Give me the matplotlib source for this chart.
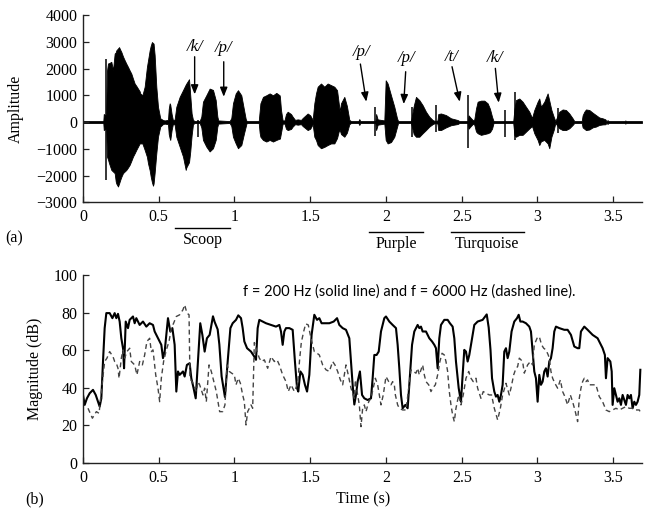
import matplotlib
matplotlib.use("Agg")
import matplotlib.pyplot as plt
import numpy as np

# ---------------- data ----------------
# speech waveform envelope (time s, upper, lower amplitude)
wave_t = [0.0, 0.134, 0.137, 0.148, 0.152, 0.158, 0.165, 0.172, 0.187, 0.198, 0.209, 0.216, 0.220, 0.231,
          0.238, 0.246, 0.253, 0.264, 0.275, 0.286, 0.297, 0.308, 0.319, 0.330, 0.341, 0.352, 0.363,
          0.374, 0.378, 0.392, 0.407, 0.422, 0.429, 0.440, 0.447, 0.455, 0.462, 0.466, 0.473, 0.484,
          0.495, 0.510, 0.528, 0.539, 0.561, 0.566, 0.572, 0.576, 0.585, 0.594, 0.605, 0.616, 0.638,
          0.660, 0.678, 0.682, 0.700, 0.708, 0.717, 0.726, 0.737, 0.770, 0.781, 0.792, 0.814, 0.836,
          0.858, 0.876, 0.887, 0.893, 0.968, 0.979, 0.990, 1.008, 1.023, 1.045, 1.063, 1.074, 1.080,
          1.160, 1.166, 1.171, 1.188, 1.210, 1.232, 1.254, 1.276, 1.298, 1.300, 1.307, 1.318, 1.330,
          1.340, 1.351, 1.373, 1.384, 1.400, 1.417, 1.439, 1.450, 1.483, 1.500, 1.516, 1.527, 1.538,
          1.549, 1.571, 1.593, 1.615, 1.637, 1.659, 1.677, 1.688, 1.695, 1.703, 1.725, 1.742, 1.758,
          1.769, 1.818, 1.824, 1.830, 1.930, 1.935, 1.945, 1.989, 1.998, 2.011, 2.033, 2.055, 2.073,
          2.080, 2.165, 2.183, 2.198, 2.220, 2.242, 2.264, 2.286, 2.308, 2.325, 2.340, 2.345, 2.363,
          2.396, 2.429, 2.473, 2.485, 2.540, 2.545, 2.560, 2.575, 2.583, 2.594, 2.605, 2.627, 2.649,
          2.671, 2.686, 2.700, 2.710, 2.840, 2.848, 2.858, 2.880, 2.902, 2.924, 2.946, 2.964, 2.979,
          3.001, 3.012, 3.023, 3.045, 3.067, 3.078, 3.092, 3.107, 3.118, 3.144, 3.166, 3.188, 3.210,
          3.232, 3.243, 3.292, 3.298, 3.309, 3.320, 3.342, 3.364, 3.386, 3.408, 3.430, 3.448, 3.455,
          3.463, 3.470, 3.575, 3.580, 3.585, 3.690]
wave_hi = [35, 35, 300, 250, 35, 1900, 2190, 2200, 2250, 1940, 2560, 2600, 2680, 2750,
           2800, 2700, 2620, 2450, 2310, 2180, 2060, 1930, 1810, 1620, 1440, 1350, 1250,
           1150, 1070, 1000, 1320, 2060, 2300, 2680, 2850, 2990, 2950, 2930, 2500, 1320,
           570, 140, 75, 60, 80, 500, 700, 650, 300, 60, 100, 570, 940,
           1190, 1400, 1440, 1600, 1000, 320, 80, 35, 35, 200, 760, 1000, 1250,
           1200, 820, 200, 60, 35, 150, 700, 1070, 1190, 1000, 450, 120, 35,
           35, 400, 700, 940, 1000, 1070, 1000, 1090, 1000, 940, 450, 60, 60,
           300, 385, 300, 200, 80, 100, 80, 150, 320, 250, 80, 700, 1070,
           1320, 1440, 1320, 1440, 1380, 1320, 1190, 700, 400, 700, 940, 600, 80,
           35, 35, 110, 35, 35, 300, 100, 60, 1560, 1440, 1000, 570, 140,
           35, 35, 600, 940, 820, 630, 385, 200, 75, 35, 60, 300, 320,
           260, 140, 75, 35, 35, 250, 150, 60, 100, 500, 760, 800, 800,
           700, 500, 200, 35, 35, 500, 820, 880, 760, 570, 385, 150, 450,
           760, 880, 570, 760, 1070, 800, 450, 200, 35, 385, 470, 450, 320,
           140, 35, 35, 250, 385, 470, 450, 350, 260, 170, 140, 100, 35,
           70, 35, 35, 60, 35, 35]
wave_lo = [-35, -35, -300, -250, -35, -1290, -1400, -1540, -1790, -1850, -1910, -2220, -2300, -2410,
           -2300, -2160, -2050, -1910, -1850, -1790, -1700, -1600, -1450, -1290, -1170, -1040, -920,
           -800, -800, -800, -1040, -1300, -1540, -1800, -2040, -2250, -2380, -2300, -1900, -1170,
           -550, -170, -75, -60, -80, -450, -600, -670, -300, -60, -100, -550, -920,
           -1290, -1790, -1700, -1500, -1100, -500, -80, -35, -35, -200, -670, -920, -1100,
           -980, -670, -170, -60, -35, -150, -550, -800, -980, -860, -420, -170, -35,
           -35, -400, -550, -670, -730, -670, -730, -670, -620, -620, -400, -60, -60,
           -250, -300, -260, -170, -80, -100, -80, -150, -300, -250, -80, -550, -670,
           -860, -980, -930, -860, -800, -800, -600, -350, -300, -450, -550, -400, -80,
           -35, -35, -110, -35, -35, -300, -100, -60, -670, -800, -750, -550, -180,
           -35, -35, -450, -550, -550, -420, -300, -170, -80, -35, -60, -300, -300,
           -200, -120, -75, -35, -35, -250, -150, -60, -100, -350, -420, -480, -450,
           -420, -380, -250, -35, -35, -500, -550, -480, -480, -360, -240, -150, -420,
           -670, -860, -720, -670, -800, -980, -550, -300, -35, -235, -300, -300, -235,
           -110, -35, -35, -200, -250, -300, -280, -200, -170, -110, -90, -85, -35,
           -70, -35, -35, -60, -35, -35]
# isolated bursts (time, upper, lower)
spike_t = [0.154, 0.761, 1.930, 2.172, 2.332, 2.539, 2.788, 2.851, 3.133]
spike_hi = [2370, 60, 550, 550, 630, 1000, 450, 1130, 510]
spike_lo = [-2160, -550, -520, -550, -360, -980, -550, -670, -420]

# phoneme markers
phon_labels = ['/k/', '/p/', '/p/', '/p/', '/t/', '/k/']
phon_text_t = [0.737, 0.929, 1.837, 2.135, 2.431, 2.717]
phon_text_a = [2814, 2760, 2627, 2380, 2440, 2380]
phon_tail_t = [0.737, 0.929, 1.831, 2.130, 2.436, 2.722]
phon_tail_a = [2440, 2253, 2167, 1880, 2067, 2006]
phon_tip_t = [0.737, 0.929, 1.870, 2.117, 2.487, 2.744]
phon_tip_a = [1035, 945, 760, 673, 760, 722]

# words
word_labels = ['Scoop', 'Purple', 'Turquoise']
word_start = [0.610, 1.888, 2.427]
word_end = [0.968, 2.244, 2.909]

# magnitude at 200 Hz (solid)
f200_t = [0.000, 0.011, 0.026, 0.044, 0.066, 0.084, 0.099, 0.110, 0.121, 0.132, 0.143, 0.154, 0.176, 0.194,
          0.209, 0.220, 0.231, 0.242, 0.253, 0.264, 0.271, 0.282, 0.297, 0.308, 0.330, 0.341, 0.352,
          0.374, 0.396, 0.418, 0.440, 0.462, 0.473, 0.495, 0.517, 0.528, 0.539, 0.550, 0.561, 0.576,
          0.590, 0.605, 0.616, 0.627, 0.638, 0.660, 0.671, 0.686, 0.704, 0.715, 0.730, 0.744, 0.759,
          0.774, 0.788, 0.803, 0.818, 0.836, 0.858, 0.869, 0.889, 0.900, 0.915, 0.937, 0.955, 0.973,
          0.988, 1.010, 1.025, 1.043, 1.054, 1.065, 1.083, 1.109, 1.131, 1.142, 1.153, 1.164, 1.186,
          1.208, 1.241, 1.274, 1.296, 1.307, 1.318, 1.329, 1.340, 1.362, 1.384, 1.399, 1.413, 1.421,
          1.435, 1.450, 1.465, 1.479, 1.494, 1.509, 1.527, 1.545, 1.560, 1.575, 1.593, 1.626, 1.655,
          1.677, 1.692, 1.714, 1.736, 1.758, 1.769, 1.780, 1.791, 1.802, 1.813, 1.828, 1.842, 1.857,
          1.879, 1.901, 1.912, 1.923, 1.938, 1.952, 1.967, 1.989, 2.000, 2.022, 2.044, 2.066, 2.077,
          2.088, 2.099, 2.110, 2.128, 2.143, 2.154, 2.172, 2.187, 2.209, 2.220, 2.231, 2.242, 2.264,
          2.286, 2.304, 2.319, 2.330, 2.341, 2.352, 2.363, 2.385, 2.407, 2.422, 2.440, 2.451, 2.462,
          2.480, 2.495, 2.506, 2.517, 2.528, 2.539, 2.550, 2.561, 2.583, 2.605, 2.638, 2.665, 2.678,
          2.690, 2.700, 2.715, 2.726, 2.737, 2.748, 2.759, 2.770, 2.781, 2.792, 2.803, 2.814, 2.829,
          2.847, 2.865, 2.876, 2.887, 2.902, 2.924, 2.946, 2.957, 2.968, 2.979, 2.990, 3.001, 3.012,
          3.023, 3.034, 3.045, 3.056, 3.067, 3.078, 3.089, 3.100, 3.111, 3.122, 3.144, 3.177, 3.199,
          3.221, 3.243, 3.265, 3.276, 3.287, 3.309, 3.331, 3.364, 3.397, 3.430, 3.445, 3.452, 3.463,
          3.481, 3.490, 3.496, 3.507, 3.518, 3.529, 3.540, 3.551, 3.562, 3.573, 3.584, 3.595, 3.606,
          3.617, 3.628, 3.639, 3.650, 3.661, 3.672, 3.679]
f200_db = [36.1, 30.8, 34.3, 37.0, 38.8, 36.1, 32.5, 29.9, 34.3, 53.9, 71.7, 79.7, 79.7, 77.0,
           79.7, 77.0, 79.3, 75.2, 66.3, 61.0, 50.3, 75.2, 71.7, 76.1, 77.9, 74.3, 77.0,
           73.4, 75.2, 72.5, 74.3, 73.4, 69.9, 66.3, 62.8, 55.7, 59.2, 68.1, 77.0, 69.9,
           71.7, 62.8, 37.9, 48.6, 46.8, 48.6, 45.9, 52.1, 53.0, 45.0, 39.7, 34.3, 53.9,
           74.3, 68.1, 59.2, 66.3, 68.1, 78.0, 75.0, 71.0, 63.0, 46.0, 35.0, 53.9, 71.7,
           74.3, 76.1, 78.5, 77.0, 71.7, 64.6, 61.0, 59.2, 56.5, 54.8, 71.7, 76.1, 75.2,
           74.3, 73.4, 72.5, 73.4, 69.9, 62.8, 69.9, 71.7, 71.7, 70.8, 53.9, 39.7, 37.9,
           48.6, 46.8, 41.5, 37.9, 46.8, 68.1, 78.8, 76.1, 77.0, 74.3, 74.3, 74.3, 75.2,
           77.0, 73.4, 71.7, 70.8, 66.3, 53.9, 41.5, 31.0, 36.1, 43.2, 48.6, 36.1, 34.3,
           33.4, 34.3, 45.0, 57.4, 57.4, 59.2, 69.9, 77.0, 77.9, 75.2, 73.4, 71.7, 62.8,
           50.3, 36.1, 29.0, 30.8, 29.0, 41.5, 62.8, 69.9, 73.4, 71.7, 72.5, 69.9, 69.9,
           66.3, 64.6, 62.8, 61.0, 50.3, 66.3, 73.4, 76.1, 76.1, 74.3, 72.5, 66.3, 53.9,
           39.7, 32.5, 46.8, 60.1, 59.2, 53.9, 57.4, 62.8, 73.4, 75.2, 76.1, 79.0, 72.0,
           60.0, 45.0, 37.9, 35.2, 36.1, 32.5, 36.1, 41.5, 59.2, 61.0, 55.7, 59.2, 69.9,
           75.2, 77.0, 78.8, 75.2, 75.2, 74.3, 72.5, 69.9, 59.2, 48.6, 45.0, 32.5, 46.8,
           41.5, 43.2, 48.6, 50.3, 45.9, 53.9, 55.7, 61.0, 69.9, 72.5, 71.7, 70.8, 70.8,
           68.1, 61.9, 61.0, 61.0, 69.9, 72.5, 70.8, 68.1, 66.3, 61.0, 57.4, 45.0, 55.7,
           53.9, 48.6, 30.8, 39.7, 36.1, 32.5, 34.3, 30.8, 36.1, 33.4, 30.8, 36.1, 34.3,
           36.1, 29.0, 32.5, 30.8, 32.5, 36.1, 49.5]

# magnitude at 6000 Hz (dashed)
f6k_t = [0.033, 0.062, 0.088, 0.106, 0.128, 0.143, 0.158, 0.176, 0.198, 0.209, 0.220, 0.231, 0.238, 0.253,
         0.264, 0.275, 0.290, 0.308, 0.319, 0.341, 0.356, 0.374, 0.392, 0.407, 0.422, 0.440, 0.451,
         0.462, 0.480, 0.495, 0.506, 0.517, 0.532, 0.550, 0.568, 0.583, 0.598, 0.616, 0.638, 0.660,
         0.671, 0.686, 0.700, 0.706, 0.726, 0.748, 0.759, 0.770, 0.792, 0.803, 0.814, 0.832, 0.847,
         0.858, 0.880, 0.902, 0.922, 0.937, 0.951, 0.966, 0.981, 0.999, 1.010, 1.025, 1.039, 1.054,
         1.065, 1.076, 1.087, 1.098, 1.109, 1.120, 1.131, 1.149, 1.164, 1.179, 1.197, 1.219, 1.241,
         1.263, 1.281, 1.296, 1.318, 1.340, 1.355, 1.373, 1.395, 1.417, 1.430, 1.441, 1.457, 1.470,
         1.487, 1.505, 1.527, 1.545, 1.560, 1.582, 1.604, 1.626, 1.648, 1.663, 1.681, 1.699, 1.714,
         1.736, 1.751, 1.769, 1.791, 1.798, 1.813, 1.824, 1.835, 1.846, 1.857, 1.868, 1.886, 1.901,
         1.916, 1.930, 1.945, 1.956, 1.967, 1.982, 2.000, 2.018, 2.033, 2.044, 2.055, 2.062, 2.077,
         2.088, 2.110, 2.132, 2.150, 2.165, 2.180, 2.198, 2.209, 2.220, 2.242, 2.253, 2.264, 2.282,
         2.297, 2.308, 2.326, 2.341, 2.356, 2.370, 2.385, 2.396, 2.407, 2.418, 2.429, 2.440, 2.451,
         2.462, 2.480, 2.495, 2.510, 2.528, 2.546, 2.561, 2.576, 2.594, 2.605, 2.627, 2.642, 2.660,
         2.682, 2.697, 2.715, 2.737, 2.755, 2.770, 2.792, 2.814, 2.825, 2.843, 2.858, 2.869, 2.880,
         2.902, 2.913, 2.935, 2.953, 2.968, 2.979, 2.997, 3.012, 3.027, 3.041, 3.056, 3.071, 3.078,
         3.089, 3.100, 3.115, 3.133, 3.151, 3.166, 3.181, 3.199, 3.217, 3.232, 3.247, 3.265, 3.276,
         3.287, 3.298, 3.309, 3.320, 3.331, 3.342, 3.364, 3.386, 3.408, 3.430, 3.452, 3.474, 3.496,
         3.518, 3.540, 3.562, 3.584, 3.606, 3.628, 3.650, 3.672, 3.683]
f6k_db = [29.0, 23.7, 27.2, 26.3, 43.2, 53.9, 55.7, 59.2, 56.5, 53.9, 53.0, 50.3, 45.0, 55.7,
          60.1, 55.7, 59.2, 61.0, 53.9, 52.1, 46.8, 53.9, 52.1, 57.4, 64.6, 66.3, 59.2,
          60.1, 46.8, 39.7, 32.5, 45.0, 53.9, 60.1, 64.6, 71.7, 74.3, 77.9, 78.8, 81.5,
          84.1, 79.7, 78.8, 45.0, 42.3, 37.9, 43.2, 41.5, 36.1, 39.7, 32.5, 52.1, 48.6,
          45.0, 37.9, 27.2, 27.2, 30.8, 52.1, 48.6, 47.7, 46.8, 41.5, 45.0, 42.3, 36.1,
          32.5, 20.1, 27.2, 29.0, 30.8, 29.0, 64.0, 59.2, 55.7, 53.9, 54.8, 50.3, 56.5,
          53.9, 54.8, 52.1, 46.8, 43.2, 37.9, 41.5, 38.0, 42.0, 55.0, 64.0, 70.0, 74.0,
          73.4, 66.3, 59.2, 58.3, 57.4, 52.1, 49.5, 48.6, 53.9, 52.1, 48.6, 44.1, 41.5,
          52.1, 46.8, 39.7, 34.3, 44.1, 36.1, 30.8, 19.2, 29.0, 30.8, 27.2, 32.5, 34.3,
          39.7, 45.0, 41.5, 36.1, 30.8, 36.1, 45.9, 43.2, 41.5, 43.2, 41.5, 36.1, 30.8,
          29.0, 28.1, 28.1, 39.7, 49.5, 48.6, 47.7, 50.3, 46.8, 52.1, 46.8, 43.2, 41.5,
          37.9, 39.7, 41.5, 46.8, 53.9, 58.3, 57.4, 53.9, 48.6, 37.9, 30.8, 25.4, 21.9,
          29.0, 36.1, 30.8, 36.1, 45.0, 48.6, 45.0, 43.2, 45.0, 39.7, 34.3, 37.9, 37.0,
          36.1, 36.1, 29.0, 22.8, 29.0, 36.1, 42.3, 36.1, 39.7, 46.8, 50.3, 51.2, 55.7,
          53.9, 47.7, 52.1, 53.9, 52.1, 62.8, 66.3, 67.2, 62.8, 61.0, 60.1, 57.4, 55.7,
          48.6, 45.0, 42.3, 39.7, 44.1, 37.9, 35.2, 30.8, 36.1, 32.5, 28.1, 21.9, 34.3,
          39.7, 43.2, 45.0, 43.2, 44.1, 41.5, 41.5, 41.5, 35.2, 32.5, 28.1, 27.2, 28.1,
          29.0, 28.1, 29.0, 29.9, 29.0, 29.0, 28.1, 28.1, 26.3]

# ---------------- figure ----------------
SERIF = ['Liberation Serif', 'DejaVu Serif']
plt.rcParams['font.family'] = SERIF
W, H = 656, 514
fig = plt.figure(figsize=(W / 100, H / 100), dpi=100)

ax1 = fig.add_axes([83 / W, 1 - 202.3 / H, (642 - 83) / W, (202.3 - 15) / H])
ax2 = fig.add_axes([83 / W, 1 - 462.7 / H, (642 - 83) / W, (462.7 - 275) / H])

for ax in (ax1, ax2):
    for s in ('top', 'right'):
        ax.spines[s].set_visible(False)
    for s in ('left', 'bottom'):
        ax.spines[s].set_linewidth(1.0)
        ax.spines[s].set_color('#222222')
    ax.tick_params(direction='in', length=4, width=0.9, color='#222222', labelsize=11.5)
    ax.tick_params(axis='x', pad=5)
    ax.tick_params(axis='y', pad=4)
    ax.set_xlim(0, 3.69)
    ax.set_xticks([0, 0.5, 1, 1.5, 2, 2.5, 3, 3.5])
    ax.set_xticklabels(['0', '0.5', '1', '1.5', '2', '2.5', '3', '3.5'])

# top panel: waveform
ax1.fill_between(wave_t, wave_lo, wave_hi, color='black', linewidth=0.6, edgecolor='black')
ax1.vlines(spike_t, spike_lo, spike_hi, color='black', linewidth=1.1)
ax1.set_ylim(-3000, 4000)
ax1.set_yticks(range(-3000, 4001, 1000))
ax1.set_yticklabels(['\u22123000', '\u22122000', '\u22121000', '0', '1000', '2000', '3000', '4000'])

for lab, tx, ta, t0, a0, t1, a1 in zip(phon_labels, phon_text_t, phon_text_a, phon_tail_t,
                                       phon_tail_a, phon_tip_t, phon_tip_a):
    ax1.text(tx, ta, lab, ha='center', va='center', fontsize=12, style='italic')
    ax1.annotate('', xy=(t1, a1), xytext=(t0, a0),
                 arrowprops=dict(arrowstyle='-|>,head_length=0.55,head_width=0.22',
                                 color='black', lw=1.0, shrinkA=0, shrinkB=0,
                                 mutation_scale=10))

xt = ax1.get_xaxis_transform()
for lab, ws, we, ly, ty in zip(word_labels, word_start, word_end,
                               [-0.137, -0.159, -0.159], [-0.200, -0.222, -0.222]):
    ax1.plot([ws, we], [ly, ly], color='black', lw=1.0, transform=xt, clip_on=False)
    ax1.text((ws + we) / 2, ty, lab, transform=xt, ha='center', va='center', fontsize=11.5)

# bottom panel: magnitudes
ax2.plot(f200_t, f200_db, color='black', lw=1.5, solid_joinstyle='round')
ax2.plot(f6k_t, f6k_db, color='#444444', lw=1.0, linestyle=(0, (3.5, 2.5)))
ax2.set_ylim(0, 100)
ax2.set_yticks(range(0, 101, 20))
ax2.text(1.054, 91.2, 'f = 200 Hz (solid line) and f = 6000 Hz (dashed line).',
         family=['Lato', 'DejaVu Sans'], fontsize=10.5, ha='left', va='center')

# labels
fig.text(16 / W, 1 - 108.6 / H, 'Amplitude', rotation=90, ha='center', va='center', fontsize=11.5)
fig.text(35 / W, 1 - 369 / H, 'Magnitude (dB)', rotation=90, ha='center', va='center', fontsize=11.5)
fig.text(363 / W, 1 - 499 / H, 'Time (s)', ha='center', va='center', fontsize=11.5)
fig.text(14 / W, 1 - 238 / H, '(a)', ha='center', va='center', fontsize=11.5)
fig.text(35 / W, 1 - 499 / H, '(b)', ha='center', va='center', fontsize=11.5)

fig.savefig('out.png', dpi=100)
